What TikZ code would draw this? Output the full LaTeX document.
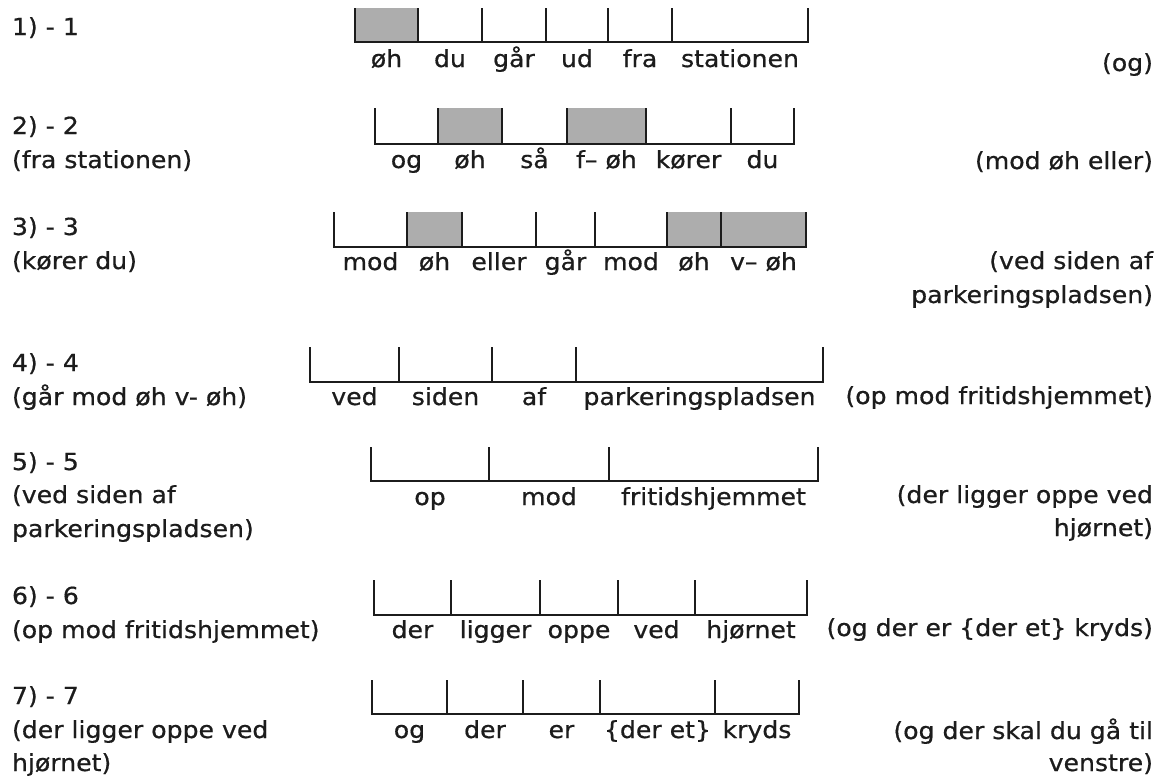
\documentclass[tikz,border=0pt]{standalone}
\usepackage{fontspec}
\setmainfont[FakeStretch=1.07,FakeBold=0.6]{DejaVu Sans}
\definecolor{ink}{HTML}{1C1C1C}
\definecolor{hl}{HTML}{ADADAD}

% One row of word slots: #1 name, #2 top of the ticks, #3 base line,
% #4 baseline of the words, #5 list of left/right/word/shaded
\newcommand\wordrow[5]{%
  \foreach \xa/\xb/\w/\s [count=\i] in {#5}{%
    \coordinate (#1a\i) at (\xa,#2);
    \coordinate (#1b\i) at (\xa,#3);
    \coordinate (#1c\i) at (\xb,#3);
    \coordinate (#1d\i) at (\xb,#2);
    \ifnum\s=1 \fill[hit] (#1a\i) rectangle (#1c\i);\fi
    \draw[rule] (#1a\i) -- (#1b\i) -- (#1c\i) -- (#1d\i);
    \node[word] (#1w\i) at ({(\xa+\xb)/2},#4) {\w};
  }%
}

\begin{document}
\begin{tikzpicture}[x=1pt,y=-1pt,
  every node/.style={inner sep=0pt,outer sep=0pt,text=ink,
    font=\fontsize{23.5}{28}\selectfont},
  word/.style={anchor=base},
  lbl/.style={anchor=base west},
  rlbl/.style={anchor=base east},
  rule/.style={line width=1.9pt,draw=ink,line cap=butt,line join=miter},
  hit/.style={fill=hl}]
\fill[white] (0,0) rectangle (1165,779);
\useasboundingbox (0,0) rectangle (1165,779);

% row 1
\node[lbl] (n1) at (12,35) {1) - 1};
\wordrow{r1}{8}{42}{67}{355/418/øh/1, 418/482/du/0, 482/546/går/0,
  546/608/ud/0, 608/672/fra/0, 672/808/stationen/0}
\node[rlbl] (p1) at (1153,71) {(og)};

% row 2
\node[lbl] (n2) at (12,134) {2) - 2};
\node[lbl] (c2) at (12,168) {(fra stationen)};
\wordrow{r2}{108}{144}{168}{375/438/og/0, 438/502/øh/1, 502/567/så/0,
  567/646/f– øh/1, 646/731/kører/0, 731/794/du/0}
\node[rlbl] (p2) at (1153,169) {(mod øh eller)};

% row 3
\node[lbl] (n3) at (12,235) {3) - 3};
\node[lbl] (c3) at (12,269) {(kører du)};
\wordrow{r3}{212}{247}{270}{334/407/mod/0, 407/462/øh/1, 462/536/eller/0,
  536/595/går/0, 595/667/mod/0, 667/721/øh/1, 721/806/v– øh/1}
\node[rlbl] (p3a) at (1153,269) {(ved siden af};
\node[rlbl] (p3b) at (1153,303) {parkeringspladsen)};

% row 4
\node[lbl] (n4) at (12,371) {4) - 4};
\node[lbl] (c4) at (12,405) {(går mod øh v- øh)};
\wordrow{r4}{347}{382}{405}{310/399/ved/0, 399/492/siden/0, 492/576/af/0,
  576/823/parkeringspladsen/0}
\node[rlbl] (p4) at (1153,404) {(op mod fritidshjemmet)};

% row 5
\node[lbl] (n5) at (12,470) {5) - 5};
\node[lbl] (c5a) at (12,503) {(ved siden af};
\node[lbl] (c5b) at (12,537) {parkeringspladsen)};
\wordrow{r5}{447}{481}{505}{371/489/op/0, 489/609/mod/0,
  609/818/fritidshjemmet/0}
\node[rlbl] (p5a) at (1153,503) {(der ligger oppe ved};
\node[rlbl] (p5b) at (1153,536) {hjørnet)};

% row 6
\node[lbl] (n6) at (12,604) {6) - 6};
\node[lbl] (c6) at (12,638) {(op mod fritidshjemmet)};
\wordrow{r6}{580}{615}{638}{374/451/der/0, 451/540/ligger/0, 540/618/oppe/0,
  618/695/ved/0, 695/807/hjørnet/0}
\node[rlbl] (p6) at (1153,636) {(og der er \{der et\} kryds)};

% row 7
\node[lbl] (n7) at (12,704) {7) - 7};
\node[lbl] (c7a) at (12,738) {(der ligger oppe ved};
\node[lbl] (c7b) at (12,771) {hjørnet)};
\wordrow{r7}{680}{714}{738}{372/447/og/0, 447/523/der/0, 523/600/er/0,
  600/715/\{der et\}/0, 715/799/kryds/0}
\node[rlbl] (p7a) at (1153,739) {(og der skal du gå til};
\node[rlbl] (p7b) at (1153,771) {venstre)};
\end{tikzpicture}
\end{document}
